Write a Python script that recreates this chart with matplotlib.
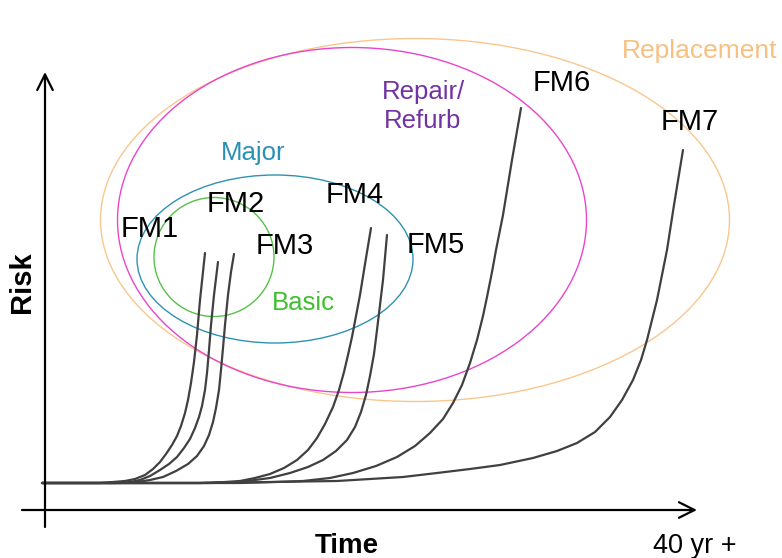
import matplotlib
matplotlib.use("Agg")
from matplotlib import pyplot as plt
from matplotlib.patches import Ellipse

plt.rcParams['font.family'] = ['Liberation Sans', 'DejaVu Sans']

# failure mode curves: time (left to right from the risk axis), risk (up from baseline)
fm1_t = [-3, 55, 68, 80, 90, 100, 108, 115, 121, 127, 132, 136, 140, 143, 146, 149, 152, 155, 160]
fm1_r = [0, 0, 1, 2, 4, 8, 14, 21, 29, 38, 47, 57, 70, 83, 100, 121, 148, 183, 230]
fm2_t = [-3, 70, 85, 95, 105, 115, 124, 132, 139, 145, 150, 154, 157, 160, 162, 164, 166, 169, 173]
fm2_r = [0, 0, 1, 3, 7, 13, 19, 26, 35, 44, 55, 66, 77, 93, 110, 133, 158, 188, 221]
fm3_t = [-3, 75, 92, 105, 118, 131, 143, 152, 159, 164, 168, 171, 174, 176, 178, 180, 183, 186, 189]
fm3_r = [0, 0, 1, 3, 6, 12, 19, 27, 37, 48, 61, 75, 93, 113, 135, 158, 188, 211, 229]
fm4_t = [-3, 155, 180, 195, 210, 225, 239, 252, 263, 272, 280, 288, 294, 299, 303, 307, 311, 315, 321, 326]
fm4_r = [0, 0, 1, 2, 5, 9, 15, 23, 33, 45, 59, 76, 93, 111, 128, 146, 167, 188, 225, 255]
fm5_t = [-3, 165, 195, 225, 245, 263, 278, 291, 302, 310, 316, 321, 325, 329, 332, 335, 338, 342]
fm5_r = [0, 0, 1, 5, 10, 16, 23, 32, 43, 56, 71, 88, 107, 129, 153, 178, 203, 248]
fm6_t = [-3, 195, 230, 258, 285, 308, 331, 352, 370, 385, 398, 408, 417, 425, 432, 438, 442,
         447, 451, 458, 467, 476]
fm6_r = [0, 0, 1, 2, 5, 10, 17, 26, 37, 50, 64, 80, 98, 120, 143, 167, 186,
         211, 233, 268, 323, 375]
fm7_t = [-3, 155, 225, 292, 325, 358, 392, 425, 455, 488, 512, 532, 550, 565, 577, 588, 596,
         602, 607, 612, 617, 622, 629, 638]
fm7_r = [0, 0, 1, 2, 4, 6, 10, 14, 18, 25, 32, 40, 51, 66, 83, 103, 123,
         143, 163, 183, 208, 233, 278, 333]

curves = [(fm1_t, fm1_r), (fm2_t, fm2_r), (fm3_t, fm3_r), (fm4_t, fm4_r),
          (fm5_t, fm5_r), (fm6_t, fm6_r), (fm7_t, fm7_r)]
fm_labels = ["FM1", "FM2", "FM3", "FM4", "FM5", "FM6", "FM7"]
fm_label_t = [105, 191, 240, 310, 391, 517, 645]
fm_label_r = [246, 271, 229, 280, 230, 392, 353]

# maintenance groups: name, centre, width, height, colour
groups = ["Replacement", "Repair/\nRefurb", "Major", "Basic"]
group_cx = [370, 307, 230, 169]
group_cy = [263, 263, 224, 226]
group_w = [629, 469, 276, 120]
group_h = [363, 345, 168, 119]
group_colors = ["#F9C78E", "#E845CC", "#2E92B3", "#55C248"]
group_text_colors = ["#F8C080", "#7232A4", "#2A90B6", "#3FBF2E"]
group_label_t = [655, 378, 208, 258]
group_label_r = [425, 355, 323, 173]
group_label_size = [19, 18.5, 18.5, 18.5]

fig = plt.figure(figsize=(7.82, 5.58), dpi=100)
ax = fig.add_axes([0, 0, 1, 1])
ax.set_xlim(-45, 737)
ax.set_ylim(-75, 483)
ax.axis('off')

for cx, cy, w, h, c in zip(group_cx, group_cy, group_w, group_h, group_colors):
    ax.add_patch(Ellipse((cx, cy), w, h, fill=False, edgecolor=c, lw=1.0))

for t, r in curves:
    ax.plot(t, r, color='#404040', lw=1.6, solid_joinstyle='round', solid_capstyle='round')

for lab, t, r in zip(fm_labels, fm_label_t, fm_label_r):
    ax.text(t, r, lab, fontsize=21, ha='center', va='baseline', color='black')

for lab, t, r, c, s in zip(groups, group_label_t, group_label_r, group_text_colors, group_label_size):
    ax.text(t, r, lab, fontsize=s, ha='center', va='baseline', color=c,
            linespacing=1.25, multialignment='center')

# axes with arrow heads
ax.annotate('', xy=(0, 411), xytext=(0, -44),
            arrowprops=dict(arrowstyle='->', lw=1.6, color='black', mutation_scale=28,
                            shrinkA=0, shrinkB=0))
ax.annotate('', xy=(652, -27), xytext=(-23, -27),
            arrowprops=dict(arrowstyle='->', lw=1.6, color='black', mutation_scale=28,
                            shrinkA=0, shrinkB=0))

ax.text(-23, 201, "Risk", fontsize=21, fontweight='bold', rotation=90, ha='center', va='center')
ax.text(302, -70, "Time", fontsize=20, fontweight='bold', ha='center', va='baseline')
ax.text(650, -70, "40 yr +", fontsize=19.5, ha='center', va='baseline')

fig.savefig("out.png", dpi=100)
